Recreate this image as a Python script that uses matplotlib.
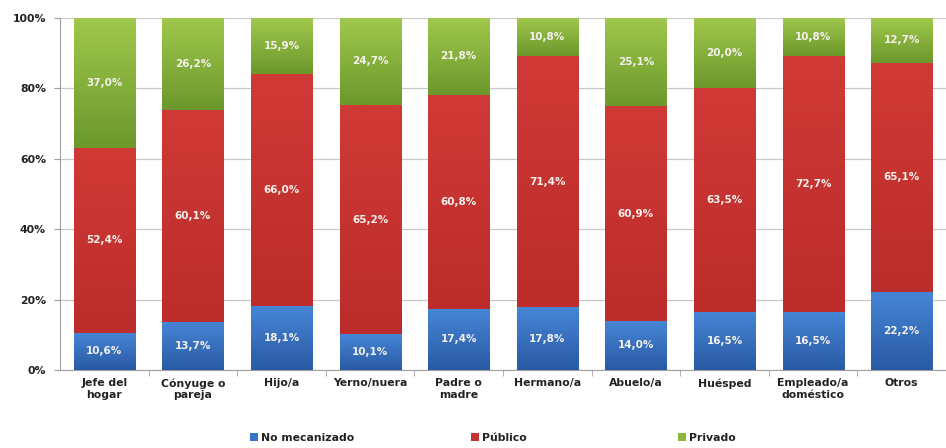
import numpy as np
import matplotlib
matplotlib.use("Agg")
import matplotlib.pyplot as plt
from matplotlib.colors import LinearSegmentedColormap
from matplotlib.patches import Patch

categories = ["Jefe del\nhogar", "Cónyuge o\npareja", "Hijo/a", "Yerno/nuera",
              "Padre o\nmadre", "Hermano/a", "Abuelo/a", "Huésped",
              "Empleado/a\ndoméstico", "Otros"]
no_mecanizado = [10.6, 13.7, 18.1, 10.1, 17.4, 17.8, 14.0, 16.5, 16.5, 22.2]
publico = [52.4, 60.1, 66.0, 65.2, 60.8, 71.4, 60.9, 63.5, 72.7, 65.1]
privado = [37.0, 26.2, 15.9, 24.7, 21.8, 10.8, 25.1, 20.0, 10.8, 12.7]
series_names = ["No mecanizado", "Público", "Privado"]
yticks = [0, 20, 40, 60, 80, 100]

plt.rcParams['font.family'] = ['DejaVu Sans']

fig = plt.figure(figsize=(9.46, 4.48), dpi=100)
ax = fig.add_axes([60/946, 78/448, 886/946, 352/448])

x = np.arange(len(categories))
width = 0.69
series = [no_mecanizado, publico, privado]
base_colors = ["#3474c6", "#c83232", "#8ab63e"]
grads = [("#2a5aa4", "#4686d6"), ("#bb2c2a", "#d03a36"), ("#6c982c", "#a0c84c")]

bottom = np.zeros(len(categories))
for vals, col, (c0, c1), name in zip(series, base_colors, grads, series_names):
    bars = ax.bar(x, vals, width, bottom=bottom, color=col, zorder=2, label=name)
    cmap = LinearSegmentedColormap.from_list("g", [c0, c1])
    grad = np.linspace(0, 1, 64).reshape(-1, 1)
    for b, v in zip(bars, vals):
        bx, by = b.get_x(), b.get_y()
        bw, bh = b.get_width(), b.get_height()
        im = ax.imshow(grad, cmap=cmap, origin="lower", aspect="auto",
                       extent=[bx, bx + bw, by, by + bh], zorder=3)
        im.set_clip_path(b)
        ax.text(bx + bw / 2, by + bh / 2, f"{v:.1f}%".replace(".", ","),
                ha="center", va="center", color="#f4f0ec", fontsize=7.5,
                fontweight="bold", zorder=4)
    bottom += np.array(vals)

ax.set_xlim(-0.5, -0.5 + 886 / 89.8)
ax.set_ylim(0, 100)
ax.set_yticks(yticks)
ax.set_yticklabels([f"{t}%" for t in yticks], fontsize=7.8, fontweight="bold",
                   color="#222222")
ax.set_xticks(x)
ax.set_xticklabels(categories, fontsize=7.8, fontweight="bold", color="#222222",
                   linespacing=1.2)
ax.tick_params(axis="x", length=0, pad=6)
ax.tick_params(axis="y", length=4, color="#a0a0a0", pad=6)
ax.set_xticks(np.arange(len(categories)) + 0.5, minor=True)
ax.tick_params(axis="x", which="minor", length=4, color="#a0a0a0")
ax.grid(axis="y", color="#c8c8c8", linewidth=0.9, zorder=0)
ax.set_axisbelow(True)
for s in ["top", "right"]:
    ax.spines[s].set_visible(False)
ax.spines["left"].set_color("#a0a0a0")
ax.spines["bottom"].set_color("#a0a0a0")

legend_x = [250, 471, 678]
for name, col, lx in zip(series_names, base_colors, legend_x):
    leg = fig.legend([Patch(facecolor=col, edgecolor="none")], [name],
                     loc="center left", bbox_to_anchor=(lx / 946, 1 - 438 / 448),
                     frameon=False, prop={"weight": "bold", "size": 7.8},
                     handlelength=0.7, handleheight=0.7, handletextpad=0.3,
                     borderpad=0, borderaxespad=0)
    for t in leg.get_texts():
        t.set_color("#222222")

fig.savefig("out.png", dpi=100)
